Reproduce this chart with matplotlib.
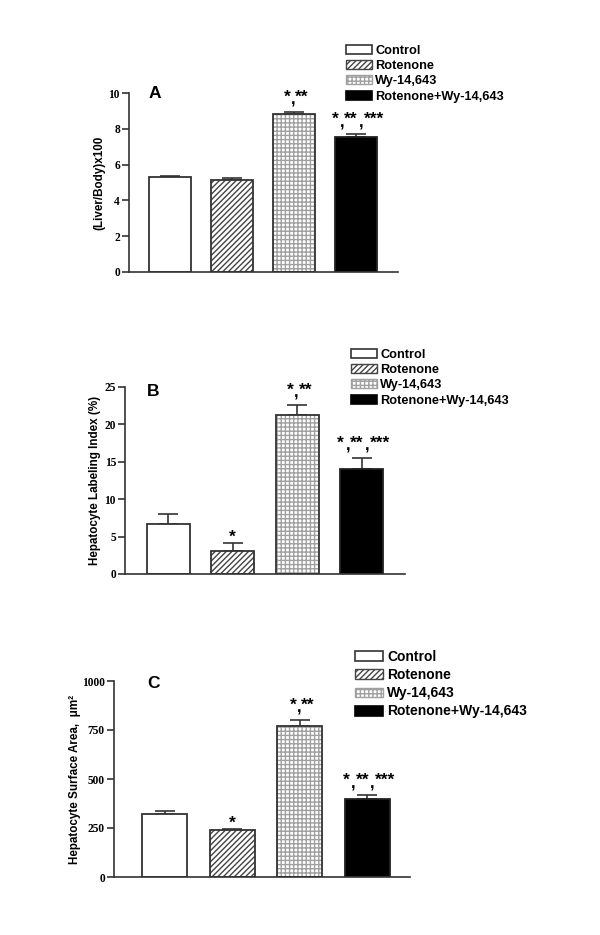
import matplotlib.pyplot as plt
from matplotlib.patches import Rectangle

groups = ["Control", "Rotenone", "Wy-14,643", "Rotenone+Wy-14,643"]

liver = [5.3, 5.15, 8.8, 7.55]
liver_err = [0.08, 0.1, 0.15, 0.15]
labeling = [6.7, 3.1, 21.2, 14.1]
labeling_err = [1.35, 1.05, 1.4, 1.45]
area = [320, 238, 768, 400]
area_err = [15, 6, 35, 18]

# significance marks per bar
marks_A = ["", "", "*,**", "*,**,***"]
marks_B = ["", "*", "*,**", "*,**,***"]
marks_C = ["", "*", "*,**", "*,**,***"]

sans = "Liberation Sans"
serif = "Liberation Serif"

fig = plt.figure(figsize=(6, 9.35), dpi=100)


def draw_bars(ax, vals, errs, width):
    x = range(len(vals))
    # white / hatched / dotted grid / black
    ax.bar(0, vals[0], width, color="white", edgecolor="#333333", lw=1.3, zorder=2)
    ax.bar(1, vals[1], width, color="white", edgecolor="#444444", hatch="//////", lw=0, zorder=2)
    ax.bar(1, vals[1], width, fill=False, edgecolor="#333333", lw=1.3, zorder=3)
    ax.bar(2, vals[2], width, color="white", edgecolor="#a0a0a0", hatch="++++", lw=0, zorder=2)
    ax.bar(2, vals[2], width, fill=False, edgecolor="#333333", lw=1.3, zorder=3)
    ax.bar(3, vals[3], width, color="black", edgecolor="#222222", lw=1.3, zorder=2)
    ax.errorbar(list(x), vals, yerr=[[0] * len(vals), errs], fmt="none", ecolor="#333333",
                elinewidth=1.2, capsize=7, capthick=1.2, zorder=1)


def draw_marks(ax, vals, errs, marks):
    for i, m in enumerate(marks):
        if not m:
            continue
        top = vals[i] + errs[i]
        parts = m.split(",")
        if len(parts) == 1:
            star_dx = [0]
            comma_dx = []
        elif len(parts) == 2:
            star_dx = [-7, 8]
            comma_dx = [-1]
        else:
            star_dx = [-21, -5, 18]
            comma_dx = [-14, 5]
        dy = 1 if len(parts) == 1 else 10
        for s, dx in zip(parts, star_dx):
            ax.annotate(s, (i, top), xytext=(dx, dy), textcoords="offset pixels",
                        ha="center", va="baseline", fontsize=12.5, fontweight="bold",
                        family=sans)
        for dx in comma_dx:
            ax.annotate(",", (i, top), xytext=(dx, 7), textcoords="offset pixels",
                        ha="center", va="baseline", fontsize=12, fontweight="bold",
                        family=sans)


def style_axis(ax, ticks, ylim, xlim, ylabel, label_x):
    ax.set_ylim(*ylim)
    ax.set_xlim(*xlim)
    ax.set_yticks(ticks)
    ax.set_yticklabels([str(t) for t in ticks], fontfamily=serif, fontweight="bold", fontsize=8.3)
    ax.set_xticks([])
    for s in ["top", "right"]:
        ax.spines[s].set_visible(False)
    for s in ["left", "bottom"]:
        ax.spines[s].set_linewidth(1.2)
        ax.spines[s].set_color("#333333")
    ax.tick_params(axis="y", length=5, width=1.2, color="#333333", pad=1.5)
    ax.set_ylabel(ylabel, fontfamily=sans, fontweight="bold", fontsize=8.4)
    ax.yaxis.set_label_coords(label_x, 0.5)


def add_legend(ax, x, y, fs, spacing):
    handles = [
        Rectangle((0, 0), 1, 1, facecolor="white", edgecolor="#333333", lw=1.2),
        Rectangle((0, 0), 1, 1, facecolor="white", edgecolor="#444444", hatch="//////", lw=1.0),
        Rectangle((0, 0), 1, 1, facecolor="white", edgecolor="#a0a0a0", hatch="++++", lw=1.0),
        Rectangle((0, 0), 1, 1, facecolor="black", edgecolor="black", lw=1.2),
    ]
    ax.legend(handles, groups, loc="upper left", bbox_to_anchor=(x, y),
              bbox_transform=fig.transFigure, frameon=False,
              prop={"family": sans, "weight": "bold", "size": fs},
              handlelength=2.0, handleheight=0.7, handletextpad=0.3,
              labelspacing=spacing, borderpad=0, borderaxespad=0)


# Panel A
axA = fig.add_axes([129 / 600, 1 - 272 / 935, 269 / 600, 179 / 935])
draw_bars(axA, liver, liver_err, 0.68)
draw_marks(axA, liver, liver_err, marks_A)
style_axis(axA, [0, 2, 4, 6, 8, 10], (0, 10), (-0.66, 3.68), "(Liver/Body)x100", -0.089)
axA.text(155 / 600, 1 - 94 / 935, "A", transform=fig.transFigure, ha="center", va="center",
         fontsize=12.5, fontweight="bold", family=sans)
add_legend(axA, 346 / 600, 1 - 45 / 935, 9.2, 0.25)

# Panel B
axB = fig.add_axes([125 / 600, 1 - 574 / 935, 280 / 600, 187 / 935])
draw_bars(axB, labeling, labeling_err, 0.66)
draw_marks(axB, labeling, labeling_err, marks_B)
style_axis(axB, [0, 5, 10, 15, 20, 25], (0, 25), (-0.67, 3.67),
           "Hepatocyte Labeling Index (%)", -0.086)
axB.text(153 / 600, 1 - 391 / 935, "B", transform=fig.transFigure, ha="center", va="center",
         fontsize=12.5, fontweight="bold", family=sans)
add_legend(axB, 351 / 600, 1 - 349 / 935, 9.2, 0.25)

# Panel C
axC = fig.add_axes([114 / 600, 1 - 877 / 935, 296 / 600, 196 / 935])
draw_bars(axC, area, area_err, 0.67)
draw_marks(axC, area, area_err, marks_C)
style_axis(axC, [0, 250, 500, 750, 1000], (0, 1000), (-0.75, 3.63),
           "Hepatocyte Surface Area,  \u03bcm\u00b2", -0.111)
axC.text(154 / 600, 1 - 683 / 935, "C", transform=fig.transFigure, ha="center", va="center",
         fontsize=12.5, fontweight="bold", family=sans)
add_legend(axC, 355 / 600, 1 - 650 / 935, 10, 0.3)

fig.savefig("out.png", dpi=100)
